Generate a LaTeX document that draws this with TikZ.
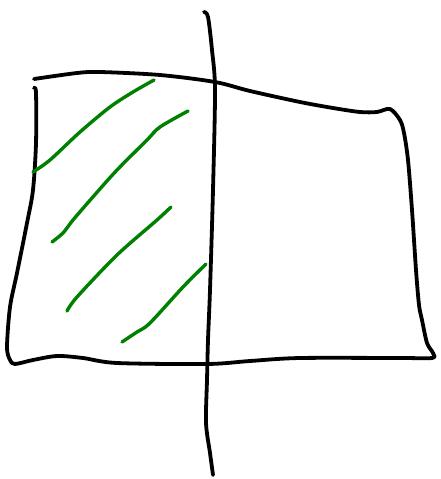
\documentclass[tikz,border=0pt]{standalone}
\begin{document}
\begin{tikzpicture}[x=1pt,y=-1pt,
  ink/.style={line width=3.8pt,line cap=round,line join=round,black},
  hatch/.style={line width=3.4pt,line cap=round,line join=round,color=hatchgreen}]
\definecolor{hatchgreen}{RGB}{0,128,0}
\useasboundingbox (0,0) rectangle (440,479);
% quadrilateral: top edge + right edge + bottom edge
\draw[ink] plot[smooth,tension=0.5] coordinates {(34,79) (77,73) (100,72) (160,75) (215,82) (250,91) (300,102) (333,108) (360,112) (377,112) (390,109) (400,120) (404,133) (408,160) (412,210) (416,270) (419,305) (422,320) (427,343) (433,353) (432,358) (400,358) (300,358) (250,361) (207,364) (117,363) (83,358) (57,356) (33,360) (15,364) (10,360) (7,347) (10,307) (17,273) (27,223) (33,190) (36,143) (36,93) (34,88)};
% vertical line
\draw[ink] plot[smooth,tension=0.5] coordinates {(204,12) (208,17) (212,50) (215,90) (213,190) (210,290) (208,340) (207,380) (206,423) (210,453) (213,475)};
% hatch strokes
\draw[hatch] plot[smooth,tension=0.5] coordinates {(33,172) (50,160) (80,132) (110,107) (133,92) (154,80)};
\draw[hatch] plot[smooth,tension=0.5] coordinates {(188,111) (160,127) (147,140) (117,170) (92,198) (73,220) (63,233) (52,242)};
\draw[hatch] plot[smooth,tension=0.5] coordinates {(171,207) (157,220) (117,255) (77,297) (67,311)};
\draw[hatch] plot[smooth,tension=0.5] coordinates {(206,264) (183,287) (150,323) (137,332) (122,342)};
\end{tikzpicture}
\end{document}
